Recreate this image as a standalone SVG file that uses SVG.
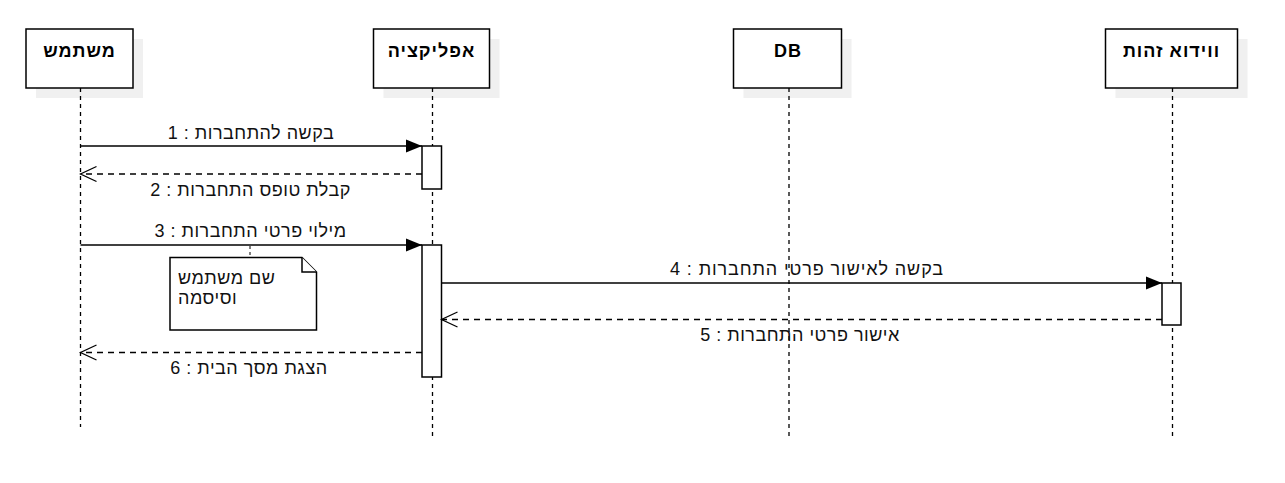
<svg xmlns="http://www.w3.org/2000/svg" width="1285" height="483" viewBox="0 0 1285 483">
<style>
.shadow{fill:#f0f0f0;stroke:none}
.box{fill:#fff;stroke:#000;stroke-width:1.5}
.head{font-family:"Liberation Sans",Arial,sans-serif;font-size:18px;letter-spacing:1px;font-weight:bold;fill:#000;text-anchor:middle}
.life{stroke:#000;stroke-width:1.3;stroke-dasharray:4 4;fill:none}
.act{fill:#fff;stroke:#000;stroke-width:1.5}
.msg{stroke:#000;stroke-width:1.5;fill:none}
.ret{stroke:#000;stroke-width:1.3;fill:none;stroke-dasharray:6 5}
.lbl{font-family:"Liberation Sans",Arial,sans-serif;font-size:18px;letter-spacing:0.5px;fill:#111;text-anchor:middle}
.wide{letter-spacing:0.9px}
.note{fill:#fff;stroke:#000;stroke-width:1.5;stroke-linejoin:miter}
.ntxt{font-family:"Liberation Sans",Arial,sans-serif;font-size:18px;letter-spacing:0.5px;fill:#111;text-anchor:start}
</style>
<defs>
<marker id="filled" markerUnits="userSpaceOnUse" markerWidth="18" markerHeight="16" refX="16" refY="7" orient="auto" viewBox="0 0 18 14">
<path d="M0,0.5 L16,7 L0,13.5 Z" fill="#000" stroke="none"/>
</marker>
<marker id="open" markerUnits="userSpaceOnUse" markerWidth="18" markerHeight="18" refX="16" refY="8" orient="auto" viewBox="0 0 18 16">
<path d="M0,0.5 L16,8 L0,15.5" fill="none" stroke="#000" stroke-width="1.3"/>
</marker>
</defs>
<rect width="1285" height="483" fill="#fff"/>

<g id="lifeline-user">
<rect class="shadow" x="36" y="39" width="107" height="59"/>
<line class="life" x1="80.5" y1="88" x2="80.5" y2="427"/>
<rect class="box" x="26" y="29" width="107" height="59"/>
<text class="head" x="79.5" y="57">משתמש</text>
</g>

<g id="lifeline-app">
<rect class="shadow" x="383.5" y="39" width="116" height="59"/>
<line class="life" x1="432.5" y1="88" x2="432.5" y2="437"/>
<rect class="box" x="373.5" y="29" width="116" height="59"/>
<text class="head" x="431.5" y="57">אפליקציה</text>
</g>

<g id="lifeline-db">
<rect class="shadow" x="743.5" y="39" width="108" height="59"/>
<line class="life" x1="789" y1="88" x2="789" y2="437"/>
<rect class="box" x="733.5" y="29" width="108" height="59"/>
<text class="head" x="788" y="57">DB</text>
</g>

<g id="lifeline-verify">
<rect class="shadow" x="1115.5" y="39" width="132" height="59"/>
<line class="life" x1="1172.5" y1="88" x2="1172.5" y2="437"/>
<rect class="box" x="1105.5" y="29" width="132" height="59"/>
<text class="head" x="1171.5" y="57">ווידוא זהות</text>
</g>

<g id="activations">
<rect class="act" x="422" y="146" width="19.5" height="43"/>
<rect class="act" x="422" y="245" width="19.5" height="132"/>
<rect class="act" x="1162" y="283" width="19" height="42"/>
</g>

<g id="note">
<line x1="250" y1="246" x2="250" y2="257" stroke="#000" stroke-width="1" stroke-dasharray="3 3"/>
<path class="note" d="M170,257.5 H302 L316.5,272 V330 H170 Z"/>
<path class="note" d="M302,257.5 V272 H316.5" fill="none"/>
<text class="ntxt" x="178" y="284">שם משתמש</text>
<text class="ntxt" x="178" y="304">וסיסמה</text>
</g>

<g id="connectors">
<line class="msg" x1="80.5" y1="146" x2="422" y2="146" marker-end="url(#filled)"/>
<text class="lbl" x="251" y="139">בקשה להתחברות : 1</text>

<line class="ret" x1="422" y1="174" x2="80.5" y2="174" marker-end="url(#open)"/>
<text class="lbl" x="250.5" y="196">קבלת טופס התחברות : 2</text>

<line class="msg" x1="80.5" y1="245" x2="422" y2="245" marker-end="url(#filled)"/>
<text class="lbl" x="250.5" y="237">מילוי פרטי התחברות : 3</text>

<line class="msg" x1="441.5" y1="283" x2="1162" y2="283" marker-end="url(#filled)"/>
<text class="lbl wide" x="807" y="275">בקשה לאישור פרטי התחברות : 4</text>

<line class="ret" x1="1162" y1="319.5" x2="441.5" y2="319.5" marker-end="url(#open)"/>
<text class="lbl" x="800" y="341">אישור פרטי התחברות : 5</text>

<line class="ret" x1="422" y1="352.5" x2="80.5" y2="352.5" marker-end="url(#open)"/>
<text class="lbl" x="249" y="374">הצגת מסך הבית : 6</text>
</g>
</svg>
